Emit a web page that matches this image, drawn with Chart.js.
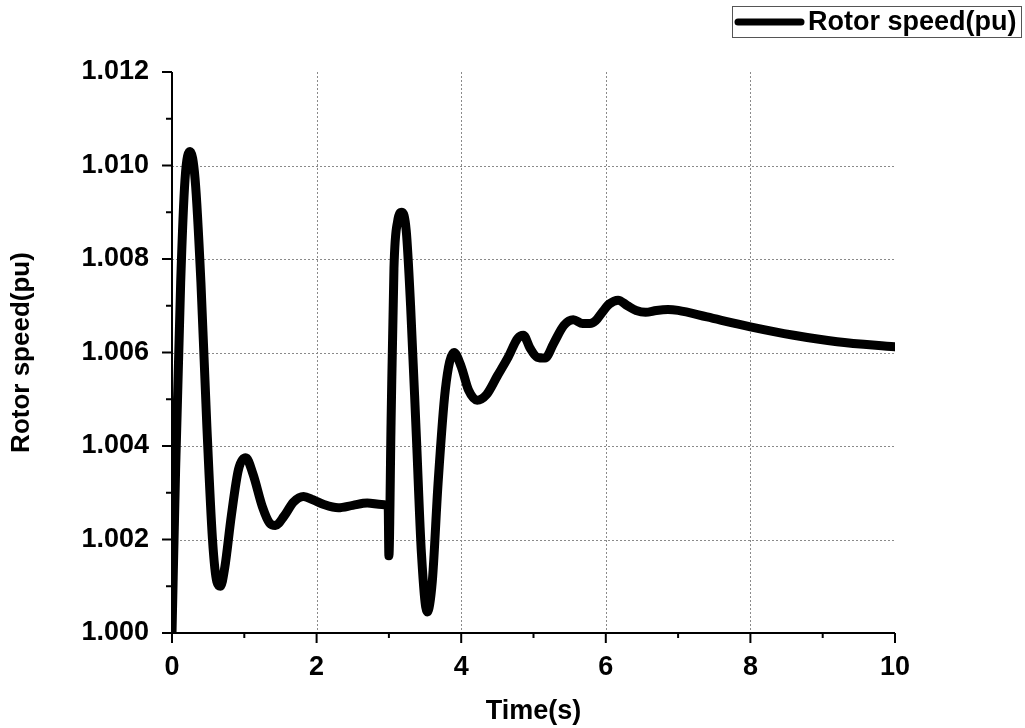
<!DOCTYPE html>
<html>
<head>
<meta charset="utf-8">
<script src="https://cdn.jsdelivr.net/npm/chart.js@4/dist/chart.umd.min.js"></script>
<style>
  html, body { margin: 0; padding: 0; background: #fff; }
  #wrap { width: 1025px; height: 728px; position: relative; }
</style>
</head>
<body>
<div id="wrap"><canvas id="speed-chart"></canvas></div>
<script>
// Rotor speed response
const seriesLabel = 'Rotor speed(pu)';
const timeS = [
    0, 0.05, 0.12, 0.18, 0.25, 0.32, 0.40, 0.48, 0.56, 0.62, 0.67, 0.73, 0.82, 0.92,
    1.02, 1.12, 1.25, 1.35, 1.43, 1.55, 1.68, 1.82, 1.95, 2.10, 2.30, 2.50, 2.70, 2.90, 2.99,
    3.00, 3.03, 3.07, 3.12, 3.18, 3.24, 3.30, 3.38, 3.45, 3.53, 3.60, 3.68, 3.78, 3.90,
    4.00, 4.10, 4.22, 4.35, 4.50, 4.65, 4.78, 4.86, 4.95, 5.05, 5.16, 5.28, 5.42, 5.55,
    5.68, 5.78, 5.86, 5.95, 6.05, 6.17, 6.30, 6.42, 6.55, 6.70, 6.86, 7.00, 7.40, 8.00, 8.60,
    9.20, 10.00
];
const rotorSpeed = [
    1.0000, 1.0035, 1.0075, 1.0097, 1.0103, 1.0097, 1.0075, 1.0045, 1.0020, 1.0011, 1.0010, 1.0014, 1.0025, 1.0035,
    1.00375, 1.0034, 1.0027, 1.00235, 1.0023, 1.0025, 1.0028, 1.00292, 1.00285, 1.00275, 1.00268, 1.00273, 1.00278, 1.00275, 1.0027,
    1.00165, 1.0045, 1.0078, 1.0088, 1.0090, 1.0086, 1.0070, 1.0042, 1.0017, 1.00045, 1.0011, 1.0032, 1.0052, 1.0060,
    1.0057, 1.0052, 1.00498, 1.0051, 1.0055, 1.0059, 1.0063, 1.00637, 1.0061, 1.0059, 1.00588, 1.0062, 1.00658, 1.0067,
    1.00662, 1.00662, 1.00668, 1.00686, 1.00704, 1.00712, 1.0070, 1.0069, 1.00686, 1.0069, 1.00692, 1.0069, 1.00676, 1.00655, 1.00637,
    1.00623, 1.00612
];
const xMin = 0, xMax = 10, xStep = 1;       // labels on every 2nd step
const yMin = 1.000, yMax = 1.012, yStep = 0.001;

const FONT = "'Liberation Sans', Arial, sans-serif";

// dotted grid, outward major/minor ticks and the two axis lines
const axesPlugin = {
    id: 'originAxes',
    beforeDatasetsDraw(chart) {
        const { ctx, chartArea: a, scales: { x, y } } = chart;
        ctx.save();
        ctx.strokeStyle = '#8a8a8a';
        ctx.lineWidth = 1;
        ctx.setLineDash([2, 2]);
        x.ticks.forEach((t, i) => {
            if (i % 2 || t.value === xMin || t.value === xMax) return;
            const px = Math.round(x.getPixelForValue(t.value)) + 0.5;
            ctx.beginPath(); ctx.moveTo(px, a.top); ctx.lineTo(px, a.bottom); ctx.stroke();
        });
        y.ticks.forEach((t, i) => {
            if (i % 2 || i === 0 || i === y.ticks.length - 1) return;
            const py = Math.round(y.getPixelForValue(t.value)) + 0.5;
            ctx.beginPath(); ctx.moveTo(a.left, py); ctx.lineTo(a.right, py); ctx.stroke();
        });
        ctx.restore();
    },
    afterDatasetsDraw(chart) {
        const { ctx, chartArea: a, scales: { x, y } } = chart;
        ctx.save();
        ctx.strokeStyle = '#000';
        ctx.lineWidth = 2;
        ctx.beginPath();
        ctx.moveTo(a.left, a.top); ctx.lineTo(a.left, a.bottom); ctx.lineTo(a.right, a.bottom);
        ctx.stroke();
        x.ticks.forEach((t, i) => {
            const px = x.getPixelForValue(t.value);
            ctx.beginPath(); ctx.moveTo(px, a.bottom); ctx.lineTo(px, a.bottom + (i % 2 ? 5 : 10)); ctx.stroke();
        });
        y.ticks.forEach((t, i) => {
            const py = y.getPixelForValue(t.value);
            ctx.beginPath(); ctx.moveTo(a.left, py); ctx.lineTo(a.left - (i % 2 ? 6 : 10), py); ctx.stroke();
        });
        ctx.restore();
    },
    afterDraw(chart) {
        // framed legend, top right
        const { ctx, width } = chart;
        const ds = chart.data.datasets[0];
        const right = width - 4, left = right - 289, top = 6, h = 31;
        ctx.save();
        ctx.fillStyle = '#fff';
        ctx.fillRect(left, top, right - left, h);
        ctx.strokeStyle = '#555';
        ctx.lineWidth = 1;
        ctx.strokeRect(left + 0.5, top + 0.5, right - left, h);
        ctx.strokeStyle = ds.borderColor;
        ctx.lineWidth = 7;
        ctx.lineCap = 'round';
        ctx.beginPath(); ctx.moveTo(left + 6, top + 16); ctx.lineTo(left + 69, top + 16); ctx.stroke();
        ctx.fillStyle = '#000';
        ctx.font = 'bold 27px ' + FONT;
        ctx.textBaseline = 'middle';
        ctx.fillText(ds.label, left + 76, top + 17);
        ctx.restore();
    }
};

new Chart(document.getElementById('speed-chart'), {
    type: 'line',
    data: {
        datasets: [{
            label: seriesLabel,
            data: timeS.map((t, i) => ({ x: t, y: rotorSpeed[i] })),
            borderColor: '#000',
            borderWidth: 9,
            borderCapStyle: 'round',
            borderJoinStyle: 'round',
            pointRadius: 0,
            cubicInterpolationMode: 'monotone',
            fill: false,
        }],
    },
    options: {
        responsive: true,
        maintainAspectRatio: false,
        animation: false,
        layout: { padding: { top: 72, right: 130, left: 0, bottom: 0 } },
        plugins: { legend: { display: false }, tooltip: { enabled: false } },
        scales: {
            x: {
                type: 'linear', min: xMin, max: xMax,
                grid: { display: false },
                border: { display: false },
                ticks: {
                    stepSize: xStep, autoSkip: false, maxRotation: 0, padding: 10,
                    color: '#000', font: { family: FONT, size: 27, weight: 'bold' },
                    callback: (v, i) => (i % 2 ? '' : String(v)),
                },
                title: {
                    display: true, text: 'Time(s)', color: '#000',
                    font: { family: FONT, size: 27, weight: 'bold' },
                    padding: { top: 1, bottom: 0 },
                },
                afterFit: s => { s.height = 95; },
            },
            y: {
                type: 'linear', min: yMin, max: yMax,
                grid: { display: false },
                border: { display: false },
                ticks: {
                    stepSize: yStep, autoSkip: false, padding: 15,
                    color: '#000', font: { family: FONT, size: 27, weight: 'bold' },
                    callback: (v, i) => (i % 2 ? '' : v.toFixed(3)),
                },
                title: {
                    display: true, text: 'Rotor speed(pu)', color: '#000',
                    font: { family: FONT, size: 26, weight: 'bold' },
                    padding: { top: 6, bottom: 0 },
                },
                afterFit: s => { s.width = 172; },
            },
        },
    },
    plugins: [axesPlugin],
});
</script>
</body>
</html>
